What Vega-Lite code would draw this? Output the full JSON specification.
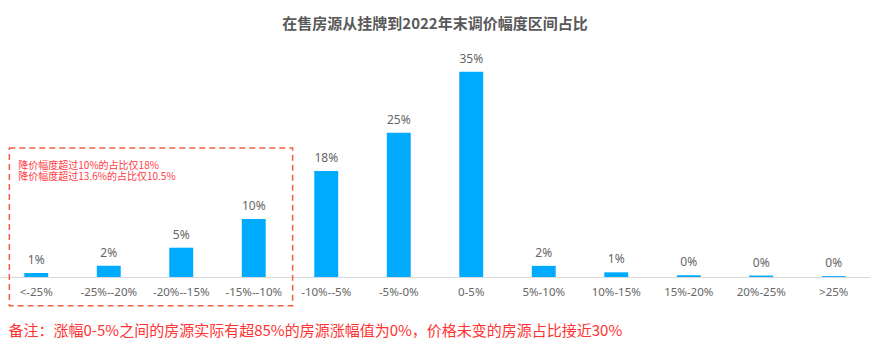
{
  "$schema": "https://vega.github.io/schema/vega-lite/v6.json",
  "autosize": "none",
  "width": 870,
  "height": 211,
  "padding": {"left": 0, "top": 66, "right": 2, "bottom": 75},
  "background": "white",
  "config": {"view": {"stroke": null}, "font": "Noto Sans CJK SC"},
  "title": {
    "text": "在售房源从挂牌到2022年末调价幅度区间占比",
    "fontSize": 15,
    "fontWeight": "bold",
    "color": "#595959",
    "anchor": "middle",
    "offset": 21,
    "font": "Noto Sans CJK SC"
  },
  "data": {
    "values": [
      {"range": "<-25%", "share": 0.7, "label": "1%"},
      {"range": "-25%--20%", "share": 1.9, "label": "2%"},
      {"range": "-20%--15%", "share": 5.0, "label": "5%"},
      {"range": "-15%--10%", "share": 9.9, "label": "10%"},
      {"range": "-10%--5%", "share": 18.1, "label": "18%"},
      {"range": "-5%-0%", "share": 24.6, "label": "25%"},
      {"range": "0-5%", "share": 35.0, "label": "35%"},
      {"range": "5%-10%", "share": 1.9, "label": "2%"},
      {"range": "10%-15%", "share": 0.8, "label": "1%"},
      {"range": "15%-20%", "share": 0.3, "label": "0%"},
      {"range": "20%-25%", "share": 0.25, "label": "0%"},
      {"range": ">25%", "share": 0.15, "label": "0%"}
    ]
  },
  "layer": [
    {
      "mark": {"type": "bar", "color": "#00AAFF"},
      "encoding": {
        "x": {
          "field": "range",
          "type": "nominal",
          "sort": null,
          "scale": {"paddingInner": 0.67, "paddingOuter": 0.335},
          "axis": {
            "title": "备注：涨幅0-5%之间的房源实际有超85%的房源涨幅值为0%，价格未变的房源占比接近30%",
            "titleFontSize": 15,
            "titleFontWeight": "normal",
            "titleColor": "#FF3333",
            "titleFont": "Noto Sans CJK SC",
            "titleAnchor": "start",
            "titleAlign": "left",
            "titleBaseline": "middle",
            "titleX": 8,
            "titleY": 53,
            "labelAngle": 0,
            "labelFontSize": 11.5,
            "labelColor": "#666666",
            "labelFont": "Noto Sans",
            "labelPadding": 9,
            "ticks": false,
            "domainColor": "#D9D9D9",
            "domainWidth": 1
          }
        },
        "y": {
          "field": "share",
          "type": "quantitative",
          "scale": {"domain": [0, 36], "nice": false},
          "axis": null
        }
      }
    },
    {
      "mark": {"type": "text", "baseline": "bottom", "dy": -6, "fontSize": 12, "color": "#666666", "font": "Noto Sans"},
      "encoding": {
        "x": {"field": "range", "type": "nominal", "sort": null},
        "y": {"field": "share", "type": "quantitative", "scale": {"domain": [0, 36], "nice": false}},
        "text": {"field": "label"}
      }
    },
    {
      "data": {"values": [{}]},
      "mark": {"type": "rect", "fillOpacity": 0, "stroke": "#F2613F", "strokeWidth": 1.5, "strokeDash": [6, 4]},
      "encoding": {
        "x": {"datum": "<-25%", "type": "nominal", "bandPosition": -0.625},
        "x2": {"datum": "-15%--10%", "bandPosition": 2.125},
        "y": {"datum": 22, "type": "quantitative", "scale": {"domain": [0, 36], "nice": false}},
        "y2": {"datum": -4.9}
      }
    },
    {
      "data": {"values": [{}]},
      "mark": {"type": "text", "align": "left", "baseline": "middle", "fontSize": 10, "lineHeight": 11.5, "color": "#FF3B45", "font": "Noto Sans CJK SC"},
      "encoding": {
        "x": {"datum": "<-25%", "type": "nominal", "bandPosition": -0.25},
        "y": {"datum": 18.95, "type": "quantitative", "scale": {"domain": [0, 36], "nice": false}},
        "text": {"value": ["降价幅度超过10%的占比仅18%", "降价幅度超过13.6%的占比仅10.5%"]}
      }
    }
  ]
}
